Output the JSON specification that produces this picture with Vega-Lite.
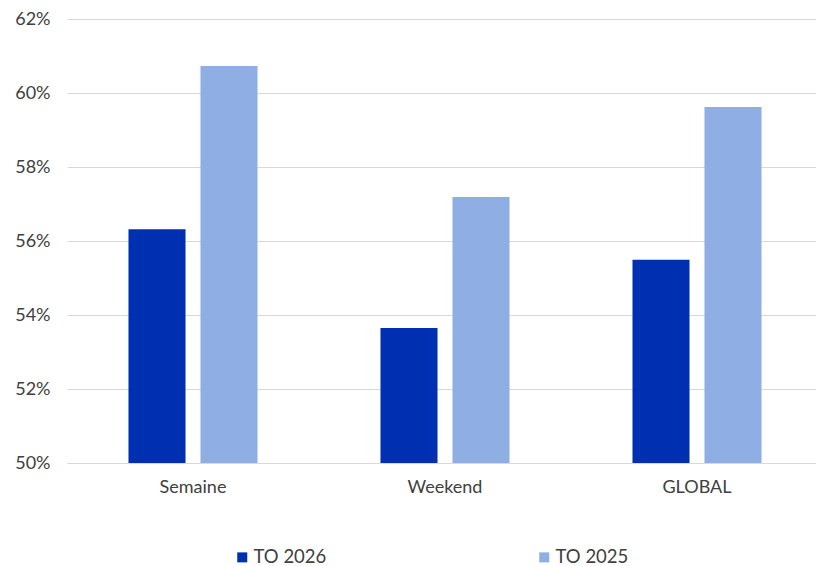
{
  "$schema": "https://vega.github.io/schema/vega-lite/v6.json",
  "width": 756,
  "height": 444,
  "padding": {"left": 67, "top": 19, "right": 0, "bottom": 103},
  "autosize": {"type": "none"},
  "background": "white",
  "config": {
    "font": "Lato",
    "view": {"stroke": null},
    "axis": {"labelFont": "Lato", "labelColor": "#404040", "labelFontSize": 18}
  },
  "data": {
    "values": [
      {"cat": "Semaine", "serie": "TO 2026", "v": 0.5632},
      {"cat": "Semaine", "serie": "TO 2025", "v": 0.6073},
      {"cat": "Weekend", "serie": "TO 2026", "v": 0.5365},
      {"cat": "Weekend", "serie": "TO 2025", "v": 0.5719},
      {"cat": "GLOBAL", "serie": "TO 2026", "v": 0.5549},
      {"cat": "GLOBAL", "serie": "TO 2025", "v": 0.5962}
    ]
  },
  "mark": {"type": "bar", "clip": true},
  "encoding": {
    "x": {
      "field": "cat", "type": "nominal", "sort": ["Semaine", "Weekend", "GLOBAL"],
      "scale": {"paddingInner": 0.488, "paddingOuter": 0.244},
      "axis": {"title": null, "labelAngle": 0, "ticks": false, "domainColor": "#d9d9d9", "labelPadding": 15}
    },
    "xOffset": {
      "field": "serie", "type": "nominal", "sort": ["TO 2026", "TO 2025"],
      "scale": {"paddingInner": 0.208, "paddingOuter": 0}
    },
    "y": {
      "field": "v", "type": "quantitative",
      "scale": {"domain": [0.5, 0.62], "zero": false, "nice": false},
      "axis": {"title": null, "format": ".0%", "values": [0.5, 0.52, 0.54, 0.56, 0.58, 0.6, 0.62], "ticks": false, "domain": false, "gridColor": "#d9d9d9", "labelPadding": 17}
    },
    "color": {
      "field": "serie", "type": "nominal", "sort": ["TO 2026", "TO 2025"],
      "scale": {"domain": ["TO 2026", "TO 2025"], "range": ["#0030B2", "#8EAEE4"]},
      "legend": {
        "title": null, "orient": "none", "legendX": 166, "legendY": 529,
        "direction": "horizontal", "columns": 2, "columnPadding": 208,
        "symbolType": "square", "symbolSize": 100, "symbolStrokeWidth": 0,
        "labelFontSize": 18.5, "labelColor": "#404040", "labelOffset": 2
      }
    }
  }
}
